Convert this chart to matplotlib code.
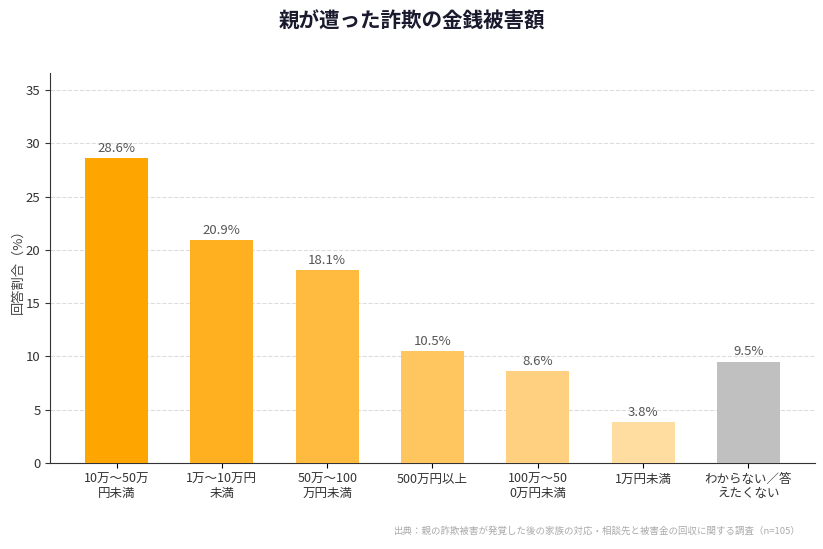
import numpy as np
import matplotlib.pyplot as plt

plt.rcParams['font.family'] = ['Noto Sans CJK JP', 'DejaVu Sans']

categories = ['10万～50万\n円未満', '1万～10万円\n未満', '50万～100\n万円未満', '500万円以上',
              '100万～50\n0万円未満', '1万円未満', 'わからない／答\nえたくない']
values = [28.6, 20.9, 18.1, 10.5, 8.6, 3.8, 9.5]
colors = ['#FFA500', '#FFB020', '#FFBB40', '#FFC55F', '#FFD080', '#FFDCA0', '#C0C0C0']

fig = plt.figure(figsize=(8.23, 5.49), dpi=100)
ax = fig.add_axes([0.061, 0.157, 0.929, 0.71])

x = np.arange(len(categories))
bars = ax.bar(x, values, width=0.6, color=colors, zorder=3)
for xi, v in zip(x, values):
    ax.text(xi, v + 0.3, f'{v}%', ha='center', va='bottom', fontsize=9.5, color='#555555')

ax.set_xticks(x)
ax.set_xticklabels(categories, fontsize=9, color='#333333', linespacing=1.1)
ax.set_ylim(0, 36.6)
ax.set_yticks(range(0, 36, 5))
ax.tick_params(axis='y', labelsize=9.5, colors='#333333')
ax.set_ylabel('回答割合（%）', fontsize=9.5, color='#444444', labelpad=1)
ax.yaxis.grid(True, linestyle='--', color='#dddddd', linewidth=0.8, zorder=0)
ax.spines['top'].set_visible(False)
ax.spines['right'].set_visible(False)
ax.spines['left'].set_color('#333333')
ax.spines['bottom'].set_color('#333333')

fig.suptitle('親が遭った詐欺の金銭被害額', y=0.98, fontsize=14.8, fontweight='bold', color='#1a1a2e')
fig.text(0.973, 0.033, '出典：親の詐欺被害が発覚した後の家族の対応・相談先と被害金の回収に関する調査（n=105）',
         ha='right', va='center', fontsize=6.8, color='#aaaaaa')

fig.savefig('out.png', dpi=100)
